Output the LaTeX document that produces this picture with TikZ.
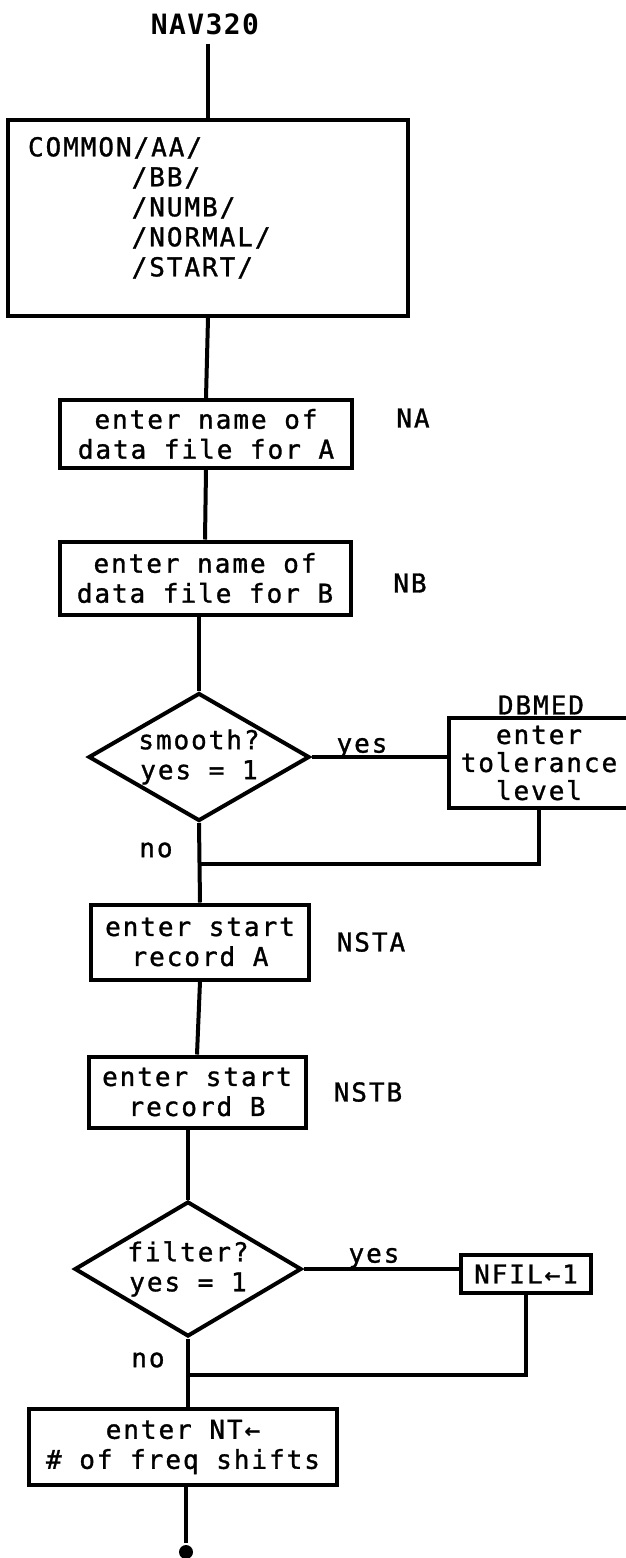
\documentclass[tikz,border=0pt]{standalone}
\usepackage{fontspec}
\newfontfamily\flowfont[LetterSpace=7.5, FakeBold=1.2]{DejaVu Sans Mono}
\newfontfamily\titlefont[LetterSpace=5]{DejaVu Sans Mono Bold}
\usetikzlibrary{shapes.geometric}

\begin{document}
\begin{tikzpicture}[x=0.5pt, y=-0.5pt, line width=2pt,
		every node/.style={font=\fontsize{13}{15}\selectfont\flowfont, inner sep=0pt},
		title/.style={font=\fontsize{14}{16}\selectfont\titlefont},
		box/.style={rectangle, draw, align=center},
		decision/.style={diamond, draw, align=center, aspect=1.75},
		dot/.style={circle, fill, minimum size=7pt}]
	\useasboundingbox (0,0) rectangle (626,1558);

	\node at (205,   24) [title] (nav320) {NAV320};
	\node at (208,  218) [box, minimum width=200pt, minimum height=98pt] (common) {};
	\node at (26,   135) [anchor=north west, align=left] (common_list) {COMMON/AA/\\\phantom{COMMON}/BB/\\\phantom{COMMON}/NUMB/\\\phantom{COMMON}/NORMAL/\\\phantom{COMMON}/START/};
	\node at (206,  434) [box, minimum width=146pt, minimum height=34pt] (name_a) {enter name of\\data file for A};
	\node at (413,  418) (na) {NA};
	\node at (205,  578) [box, minimum width=145.5pt, minimum height=36.5pt] (name_b) {enter name of\\data file for B};
	\node at (410,  583) (nb) {NB};
	\node at (199,  757) [decision, minimum width=110.5pt, minimum height=64pt] (smooth) {smooth?\\yes = 1};
	\node at (362,  748) (smooth_yes) {yes};
	\node at (541,  705) (dbmed) {DBMED};
	\node at (539,  763) [box, minimum width=90.5pt, minimum height=45pt, font=\fontsize{13}{14}\selectfont\flowfont] (tolerance) {enter\\tolerance\\level};
	\node at (156,  850) (smooth_no) {no};
	\coordinate (smooth_join) at (199, 864);
	\node at (200,  942) [box, minimum width=109pt, minimum height=37.5pt] (start_a) {enter start\\record A};
	\node at (371,  942) (nsta) {NSTA};
	\node at (197, 1092) [box, minimum width=108.5pt, minimum height=35.5pt] (start_b) {enter start\\record B};
	\node at (368, 1092) (nstb) {NSTB};
	\node at (188, 1269) [decision, minimum width=113.5pt, minimum height=67.5pt] (filter) {filter?\\yes = 1};
	\node at (374, 1258) (filter_yes) {yes};
	\node at (526, 1274) [box, minimum width=65pt, minimum height=19pt] (nfil) {NFIL←1};
	\node at (148, 1360) (filter_no) {no};
	\coordinate (filter_join) at (187, 1375);
	\node at (183, 1447) [box, minimum width=154pt, minimum height=38pt] (shifts) {enter NT←\\\# of freq shifts};
	\node at (186, 1552) [dot] (stop) {};

	\draw[shorten <=3.5pt] (nav320.south -| common.north) -- (common.north);
	\draw (common.south)    -- (name_a.north);
	\draw (name_a.south)    -- (name_b.north);
	\draw (name_b.south -| smooth.north) -- (smooth.north);
	\draw (smooth.east)     -- (smooth.east -| tolerance.west);
	\draw (tolerance.south) |- (smooth_join);
	\draw (smooth.south)    -- (start_a.north);
	\draw (start_a.south)   -- (start_b.north);
	\draw (start_b.south -| filter.north) -- (filter.north);
	\draw (filter.east)     -- (filter.east -| nfil.west);
	\draw (nfil.south)      |- (filter_join);
	\draw (filter.south)    -- (filter.south |- shifts.north);
	\draw (shifts.south -| stop) -- (stop);
\end{tikzpicture}
\end{document}
